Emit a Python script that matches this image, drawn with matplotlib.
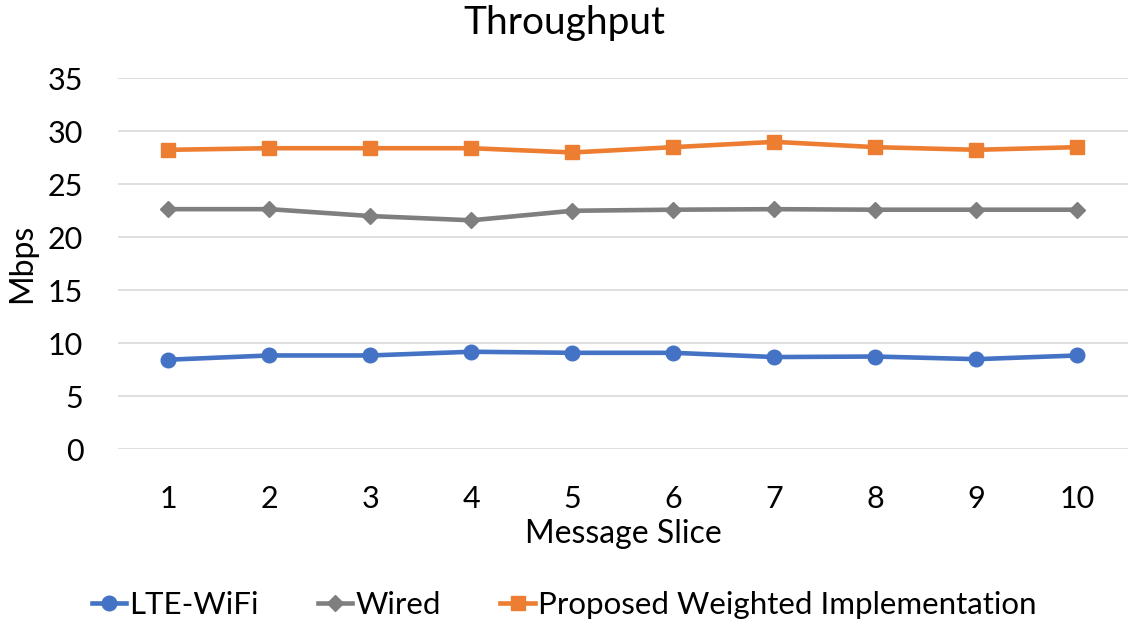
import matplotlib
matplotlib.use("Agg")
import matplotlib.pyplot as plt

# ── data ──────────────────────────────────────────────────────────────────────
slices = [1, 2, 3, 4, 5, 6, 7, 8, 9, 10]
lte_wifi = [8.45, 8.85, 8.85, 9.2, 9.1, 9.1, 8.7, 8.75, 8.5, 8.85]
wired = [22.65, 22.65, 22.0, 21.6, 22.5, 22.6, 22.65, 22.6, 22.6, 22.6]
weighted = [28.25, 28.4, 28.4, 28.4, 28.0, 28.5, 29.0, 28.5, 28.25, 28.5]
y_ticks = [0, 5, 10, 15, 20, 25, 30, 35]

plt.rcParams["font.family"] = ["Lato", "DejaVu Sans"]

fig = plt.figure(figsize=(11.28, 6.26), dpi=100)
ax = fig.add_axes([0.1046, 0.2823, 0.8954, 0.5927])

ax.plot(slices, lte_wifi, color="#4472C4", lw=3.3, marker="o", ms=10.5,
        label="LTE-WiFi")
ax.plot(slices, wired, color="#7F7F7F", lw=3.3, marker="D", ms=8,
        label="Wired")
ax.plot(slices, weighted, color="#ED7D31", lw=3.3, marker="s", ms=10.5,
        label="Proposed Weighted Implementation")

ax.set_xlim(0.5, 10.5)
ax.set_ylim(0, 35)
ax.set_xticks(slices)
ax.set_yticks(y_ticks)
ax.tick_params(axis="both", length=0, labelsize=22)
ax.tick_params(axis="y", pad=25)
ax.tick_params(axis="x", pad=26)
ax.grid(axis="y", color="#D9D9D9", lw=1.2)
ax.set_axisbelow(True)
for s in ax.spines.values():
    s.set_visible(False)

ax.set_xlabel("Message Slice", fontsize=23, labelpad=4)
ax.set_ylabel("Mbps", fontsize=23, labelpad=8)
fig.text(0.5, 0.963, "Throughput", ha="center", va="center", fontsize=28)

fig.legend(loc="center", bbox_to_anchor=(0.5, 0.033), ncol=3, frameon=False,
           fontsize=22.5, handlelength=1.1, handletextpad=0.1, columnspacing=1.9)

fig.savefig("out.png", dpi=100)
